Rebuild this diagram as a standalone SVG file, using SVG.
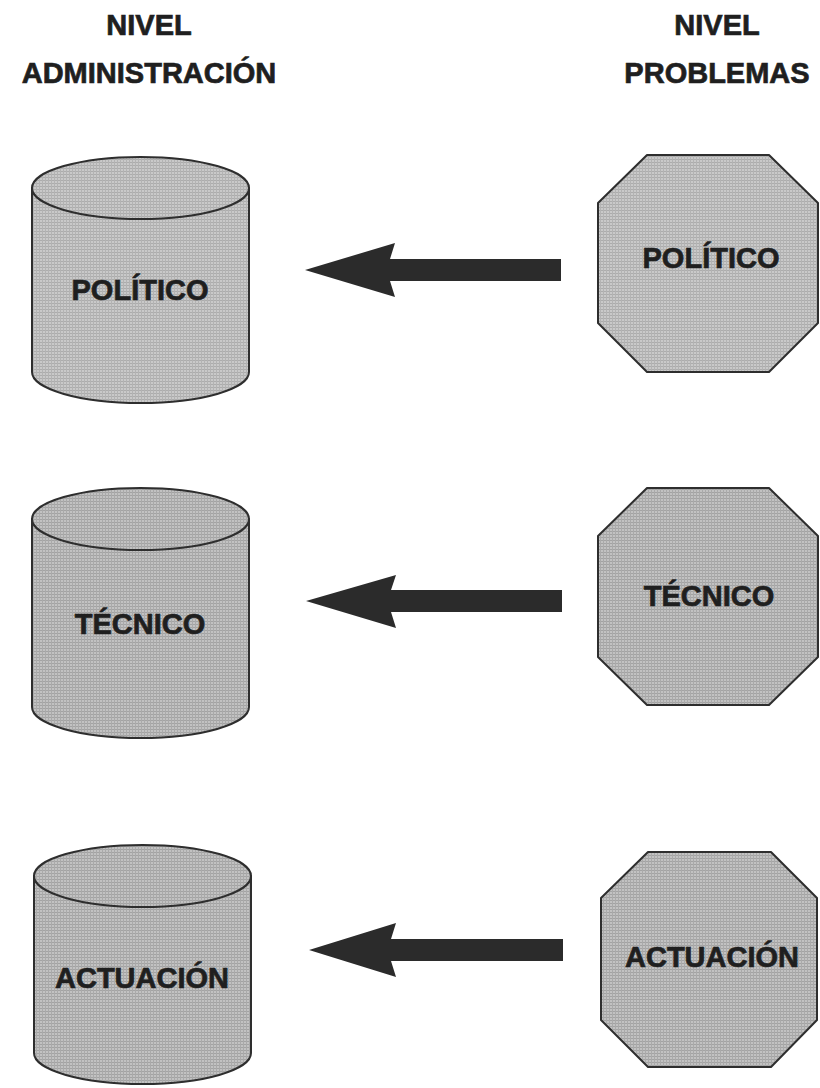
<svg xmlns="http://www.w3.org/2000/svg" width="820" height="1088" viewBox="0 0 820 1088">
  <defs>
    <pattern id="grain" width="3" height="3" patternUnits="userSpaceOnUse">
      <rect width="3" height="3" fill="#c9c9c9"/>
      <rect width="3" height="1" fill="#acacac"/>
      <rect width="1" height="3" fill="#b3b3b3"/>
    </pattern>
    <pattern id="grain-dark" width="3" height="3" patternUnits="userSpaceOnUse">
      <rect width="3" height="3" fill="#c2c2c2"/>
      <rect width="3" height="1" fill="#a3a3a3"/>
      <rect width="1" height="3" fill="#aaaaaa"/>
    </pattern>
  </defs>
  <style>
    .shape { fill: url(#grain); stroke: #2e2e2e; stroke-width: 2; stroke-linejoin: round; }
    .dark { fill: url(#grain-dark); }
    .lbl { font-family: "Liberation Sans", Arial, Helvetica, sans-serif; font-weight: bold; font-size: 29px; fill: #1f1f1f; stroke: #1f1f1f; stroke-width: 0.7; text-anchor: middle; }
    .arrow { fill: #2b2b2b; stroke: none; }
  </style>
  <rect width="820" height="1088" fill="#ffffff"/>

  <g id="header-admin">
    <text class="lbl" x="149" y="35">NIVEL</text>
    <text class="lbl" x="149" y="83">ADMINISTRACIÓN</text>
  </g>
  <g id="header-problemas">
    <text class="lbl" x="717" y="35">NIVEL</text>
    <text class="lbl" x="717" y="83">PROBLEMAS</text>
  </g>

  <g id="admin-politico">
    <path class="shape" d="M32,188 L32,372 A108.5,31 0 0 0 249,372 L249,188 Z"/>
    <ellipse class="shape" cx="140.5" cy="188" rx="108.5" ry="31"/>
    <text class="lbl" x="140" y="300">POLÍTICO</text>
  </g>
  <g id="admin-tecnico">
    <path class="shape dark" d="M32,519 L32,707 A108.5,31 0 0 0 249,707 L249,519 Z"/>
    <ellipse class="shape dark" cx="140.5" cy="519" rx="108.5" ry="31"/>
    <text class="lbl" x="140" y="634">TÉCNICO</text>
  </g>
  <g id="admin-actuacion">
    <path class="shape dark" d="M34,876 L34,1053 A108.5,31 0 0 0 251,1053 L251,876 Z"/>
    <ellipse class="shape dark" cx="142.5" cy="876" rx="108.5" ry="31"/>
    <text class="lbl" x="142" y="988">ACTUACIÓN</text>
  </g>

  <g id="problema-politico">
    <polygon class="shape" points="647,155 769,155 818,203 818,323 769,372 647,372 598,323 598,203"/>
    <text class="lbl" x="711" y="268">POLÍTICO</text>
  </g>
  <g id="problema-tecnico">
    <polygon class="shape dark" points="647,488 769,488 818,536 818,657 769,705 647,705 598,657 598,536"/>
    <text class="lbl" x="709" y="606">TÉCNICO</text>
  </g>
  <g id="problema-actuacion">
    <polygon class="shape dark" points="648,852 771,852 817,898 817,1020 771,1067 648,1067 601,1020 601,898"/>
    <text class="lbl" x="712" y="967">ACTUACIÓN</text>
  </g>

  <g id="connectors">
    <polygon class="arrow" points="305,270 395,243 390,259 561,259 561,281 390,281 395,297"/>
    <polygon class="arrow" points="306,601 396,575 391,590 562,590 562,612 391,612 396,628"/>
    <polygon class="arrow" points="309,950 396,923 391,939 563,939 563,961 391,961 396,977"/>
  </g>
</svg>
